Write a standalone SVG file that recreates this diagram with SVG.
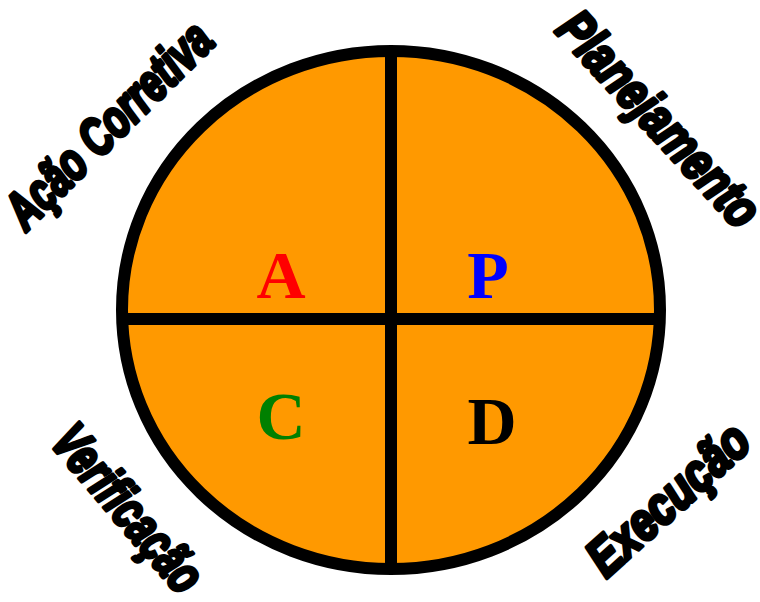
<svg xmlns="http://www.w3.org/2000/svg" width="760" height="602" viewBox="0 0 760 602">
<style>
.lbl{font-family:"Liberation Sans",Arial,sans-serif;font-weight:bold;font-style:italic;font-size:53px;fill:#000;stroke:#000;stroke-width:4;stroke-linejoin:round}
.big{font-family:"Liberation Serif","Times New Roman",serif;font-weight:bold;font-size:68px;text-anchor:middle}
.ln{stroke:#000;stroke-width:12;fill:none}
</style>
<rect width="760" height="602" fill="#fff"/>
<g id="circle">
<ellipse cx="391" cy="310" rx="269" ry="259" fill="#FF9900" stroke="#000" stroke-width="12"/>
</g>
<g id="dividers">
<line class="ln" x1="391" y1="52" x2="391" y2="568"/>
<line class="ln" x1="123" y1="319" x2="659" y2="319"/>
</g>
<g id="quadA"><text class="big" x="281" y="298" fill="#FF0000">A</text></g>
<g id="quadP"><text class="big" x="488" y="298" fill="#0000FF">P</text></g>
<g id="quadC"><text class="big" x="281" y="439" fill="#008000">C</text></g>
<g id="quadD"><text class="big" x="492" y="444" fill="#000">D</text></g>
<g id="lblAcao"><text class="lbl" transform="translate(26,232) rotate(-44.7)" textLength="268" lengthAdjust="spacingAndGlyphs">Ação Corretiva</text></g>
<g id="lblPlan"><text class="lbl" transform="translate(554,31) rotate(47.4)" textLength="272" lengthAdjust="spacingAndGlyphs">Planejamento</text></g>
<g id="lblVer"><text class="lbl" transform="translate(49,443) rotate(49.6)" textLength="202" lengthAdjust="spacingAndGlyphs">Verificação</text></g>
<g id="lblExe"><text class="lbl" transform="translate(606,579) rotate(-42)" textLength="199" lengthAdjust="spacingAndGlyphs">Execução</text></g>
</svg>
